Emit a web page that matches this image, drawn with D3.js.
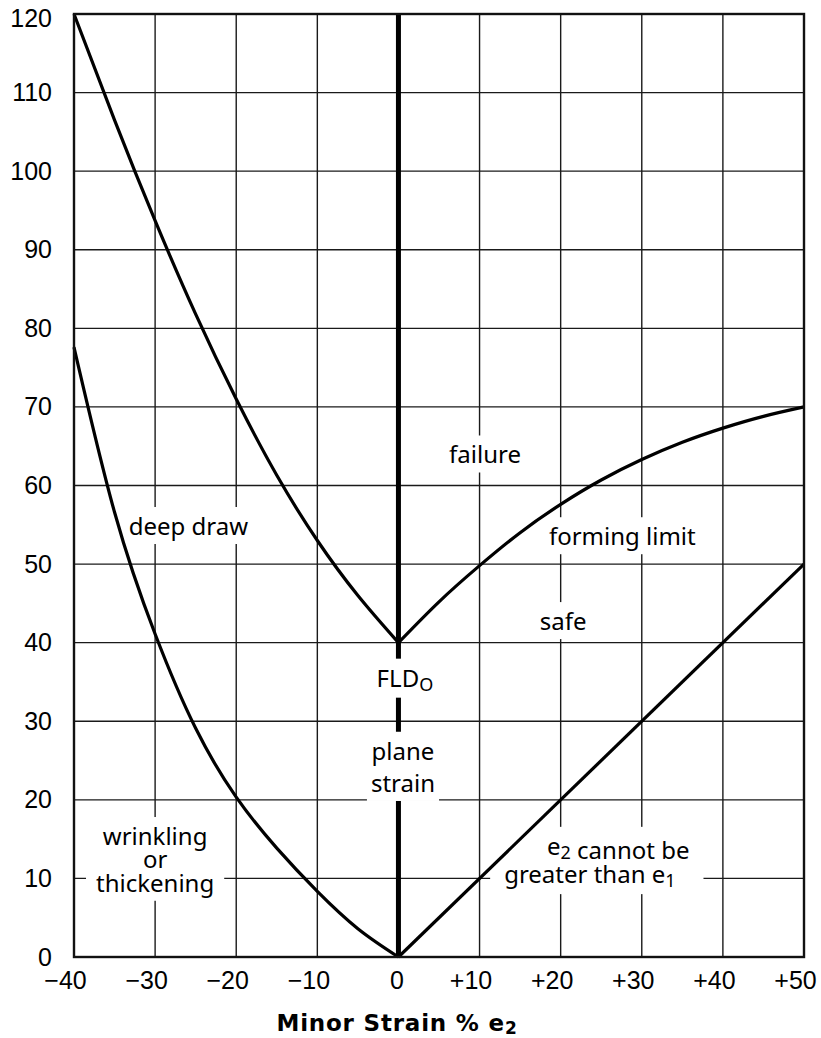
<!DOCTYPE html>
<meta charset="utf-8">
<style>
    body { margin: 0; background: #fff; }
    svg { display: block; font-family: "Noto Sans", sans-serif; }
    .grid line { stroke: #1a1a1a; stroke-width: 1.4px; }
    .frame { fill: none; stroke: #111; stroke-width: 2.4px; }
    .curve { fill: none; stroke: #000; stroke-width: 3.2px; }
    .axis text { font-size: 25px; fill: #000; }
    .lbl { font-size: 24px; fill: #000; }
</style>
<svg width="821" height="1038"></svg>
<script src="https://d3js.org/d3.v7.min.js"></script>
<script>

    // tick values
    var xTicks = [-40, -30, -20, -10, 0, 10, 20, 30, 40, 50];
    var yTicks = [0, 10, 20, 30, 40, 50, 60, 70, 80, 90, 100, 110, 120];

    // curves [minor strain e2, major strain e1]
    var deepDrawLimit = [[-40, 120], [-35, 106.5], [-30, 93.7], [-25, 81.8], [-20, 71.0],
        [-15, 61.3], [-10, 53.0], [-5, 46.0], [0, 40]];
    var wrinkleLimit = [[-40, 77.6], [-35, 56.6], [-30, 41.1], [-25, 29.1], [-20, 20.35],
        [-15, 13.85], [-10, 8.35], [-5, 3.6], [0, 0]];
    var formingLimit = [[0, 40], [5, 45.2], [10, 49.8], [15, 54], [20, 57.6], [25, 60.7],
        [30, 63.3], [35, 65.5], [40, 67.3], [45, 68.8], [50, 70]];
    var equalStrain = [[0, 0], [50, 50]];

    var svg = d3.select("svg");
    var x = d3.scaleLinear().domain([-40, 50]).range([74, 804]);
    var y = d3.scaleLinear().domain([0, 120]).range([957, 14]);

    // grid
    var grid = svg.append("g").attr("class", "grid");
    grid.selectAll("line.v").data(xTicks.slice(1, -1)).enter().append("line")
        .attr("class", "v")
        .attr("x1", function (d) { return x(d); }).attr("x2", function (d) { return x(d); })
        .attr("y1", y(0)).attr("y2", y(120));
    grid.selectAll("line.h").data(yTicks.slice(1, -1)).enter().append("line")
        .attr("class", "h")
        .attr("x1", x(-40)).attr("x2", x(50))
        .attr("y1", function (d) { return y(d); }).attr("y2", function (d) { return y(d); });

    // plane strain axis
    svg.append("line")
        .attr("x1", x(0)).attr("x2", x(0)).attr("y1", y(0)).attr("y2", y(120))
        .attr("stroke", "#000").attr("stroke-width", 5);

    var bgLayer = svg.append("g");
    var curveLayer = svg.append("g");
    var textLayer = svg.append("g");

    var line = d3.line()
        .x(function (d) { return x(d[0]); })
        .y(function (d) { return y(d[1]); })
        .curve(d3.curveNatural);

    curveLayer.selectAll("path.curve")
        .data([deepDrawLimit, wrinkleLimit, formingLimit, equalStrain])
        .enter().append("path")
        .attr("class", "curve")
        .attr("d", line);

    curveLayer.append("rect").attr("class", "frame")
        .attr("x", x(-40)).attr("y", y(120))
        .attr("width", x(50) - x(-40)).attr("height", y(0) - y(120));

    // axes (labels only)
    function fmtX(d) {
        if (d === 0) return "0";
        return (d < 0 ? "\u2212" : "+") + Math.abs(d);
    }
    var gx = textLayer.append("g").attr("class", "axis")
        .attr("transform", "translate(0," + y(0) + ")")
        .call(d3.axisBottom(x).tickValues(xTicks).tickSize(0).tickPadding(14).tickFormat(fmtX));
    gx.select(".domain").remove();
    gx.selectAll("text").attr("font-family", null).attr("font-size", null)
        .attr("dx", function (d) { return d === 0 ? -2 : -9; });

    var gy = textLayer.append("g").attr("class", "axis")
        .attr("transform", "translate(52,0)")
        .call(d3.axisLeft(y).tickValues(yTicks).tickSize(0).tickPadding(0));
    gy.select(".domain").remove();
    gy.selectAll("text").attr("font-family", null).attr("font-size", null)
        .attr("dy", function (d) { return d === 120 ? "0.5em" : "0.32em"; });

    var title = textLayer.append("text")
        .attr("x", 397).attr("y", 1031)
        .attr("text-anchor", "middle")
        .attr("font-family", "DejaVu Sans, Verdana, sans-serif")
        .attr("font-weight", "bold").attr("font-size", 23)
        .attr("letter-spacing", 0.8);
    title.append("tspan").text("Minor Strain % e");
    title.append("tspan").attr("font-size", 17).attr("dy", 3).text("2");

    // region labels with white backgrounds
    function label(lines, pad) {
        var t = textLayer.append("text").attr("class", "lbl").attr("text-anchor", "middle");
        lines.forEach(function (l) {
            var tl = t.append("tspan").attr("x", x(l.x)).attr("y", y(l.y));
            l.parts.forEach(function (p) {
                if (typeof p === "string") {
                    tl.append("tspan").text(p);
                } else {
                    tl.append("tspan").attr("font-size", 18).attr("dy", 4).text(p.sub);
                }
            });
        });
        var b = t.node().getBBox();
        bgLayer.append("rect").attr("fill", "#fff")
            .attr("x", b.x - pad).attr("y", b.y - 2)
            .attr("width", b.width + 2 * pad).attr("height", b.height + 4);
    }

    label([{ x: 10.67, y: 62.8, parts: ["failure"] }], 6);
    label([{ x: -25.9, y: 53.7, parts: ["deep draw"] }], 6);
    label([{ x: 27.6, y: 52.4, parts: ["forming limit"] }], 6);
    label([{ x: 20.3, y: 41.6, parts: ["safe"] }], 6);
    label([{ x: 0.8, y: 34.4, parts: ["FLD", { sub: "O" }] }], 4);
    label([{ x: 0.56, y: 25.1, parts: ["plane"] }, { x: 0.56, y: 21.0, parts: ["strain"] }], 4);
    label([{ x: -30, y: 14.25, parts: ["wrinkling"] }, { x: -30, y: 11.3, parts: ["or"] },
        { x: -30, y: 8.3, parts: ["thickening"] }], 10);
    label([{ x: 27.1, y: 13.0, parts: ["e", { sub: "2" }, " cannot be"] },
        { x: 23.6, y: 9.4, parts: ["greater than e", { sub: "1" }] }], 14);

</script>
